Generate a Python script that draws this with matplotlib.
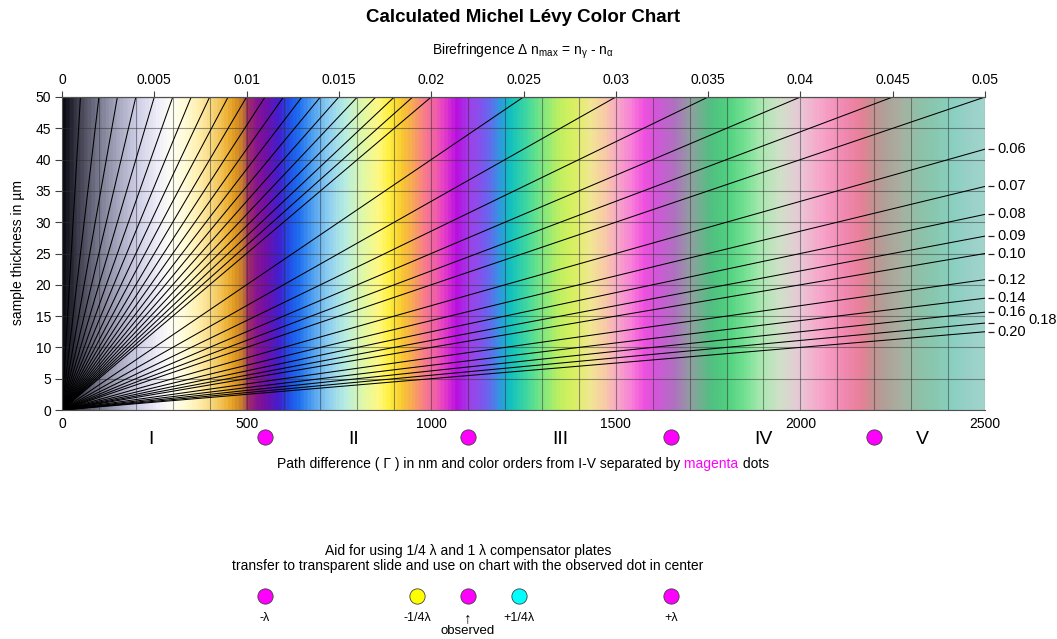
import numpy as np
import matplotlib.pyplot as plt
from matplotlib import transforms
from matplotlib.colors import LinearSegmentedColormap

plt.rcParams['font.family'] = ['Liberation Sans', 'DejaVu Sans']
plt.rcParams['mathtext.fontset'] = 'custom'
plt.rcParams['mathtext.rm'] = 'Liberation Sans'
plt.rcParams['mathtext.it'] = 'Liberation Sans:italic'

# interference colours (path difference in nm)
color_nm = [0, 40, 94, 148, 202, 256, 292, 328, 365, 401, 437, 464, 487, 500,
            523, 550, 586, 613, 640, 676, 721, 766, 812, 857, 884, 920, 956,
            983, 1010, 1032, 1069, 1105, 1150, 1186, 1213, 1259, 1303, 1349,
            1385, 1430, 1475, 1506, 1543, 1579, 1615, 1660, 1706, 1760, 1805,
            1850, 1895, 1949, 2003, 2026, 2071, 2125, 2170, 2197, 2233, 2278,
            2324, 2369, 2414, 2459, 2500]
color_hex = ['#0c0c14', '#404050', '#7a7a90', '#a8a8c0', '#d0d0e8', '#f0eef8',
             '#fffff5', '#fffbd8', '#fff0b0', '#f8d880', '#f0b840', '#e09a20',
             '#c07830', '#a03060', '#8a1490', '#7010a8', '#4020d0', '#2050e8',
             '#2070f0', '#50a0f0', '#90d0f0', '#b8eee0', '#e0f8a8', '#fff880',
             '#fff040', '#f8c830', '#f8a060', '#f87890', '#f060a8', '#e840c8',
             '#b810e0', '#a040e8', '#7060f0', '#3098e0', '#10c0c0', '#40d8a0',
             '#80e880', '#c0f060', '#d8f060', '#f0e890', '#f8c8a8', '#f8a8c8',
             '#f880d8', '#f050e0', '#d058d8', '#b070c0', '#90a0a0', '#50c080',
             '#50d080', '#70e090', '#a8e8b0', '#d0e0c8', '#e8c8d8', '#f0b8d0',
             '#f8a0c8', '#f088b0', '#e88098', '#c89090', '#b0a098', '#a8b0a0',
             '#90c0a8', '#88c8b0', '#88d0c0', '#98d0c8', '#a0d4cc']

# birefringence lines ending at the top edge / the right edge
dn_top = [0.001, 0.002, 0.003, 0.004, 0.005, 0.006, 0.007, 0.008, 0.009, 0.010,
          0.011, 0.012, 0.013, 0.014, 0.015, 0.016, 0.017, 0.018, 0.019, 0.020,
          0.025, 0.030, 0.035, 0.040, 0.045, 0.050]
dn_side = [0.06, 0.07, 0.08, 0.09, 0.10, 0.12, 0.14, 0.16, 0.18, 0.20]
side_labels = ['0.06', '0.07', '0.08', '0.09', '0.10', '0.12', '0.14', '0.16', '0.18', '0.20']

top_ticks = [0, 0.005, 0.01, 0.015, 0.02, 0.025, 0.03, 0.035, 0.04, 0.045, 0.05]
bottom_ticks = [0, 500, 1000, 1500, 2000, 2500]

order_names = ['I', 'II', 'III', 'IV', 'V']
order_pos = [240, 790, 1350, 1900, 2330]
order_dots = [550, 1100, 1650, 2200]

aid_pos = [550, 962.5, 1100, 1237.5, 1650]
aid_colors = ['#ff00ff', '#ffff00', '#ff00ff', '#00ffff', '#ff00ff']
aid_labels = ['-λ', '-1/4λ', '↑', '+1/4λ', '+λ']

W, H = 1057, 639
fig = plt.figure(figsize=(W / 100, H / 100), dpi=100)
ax = fig.add_axes([62 / W, 1 - 410 / H, 923 / W, 313 / H])


def fy(py):
    return 1 - py / H


cmap = LinearSegmentedColormap.from_list(
    'michel_levy', list(zip(np.array(color_nm) / 2500, color_hex)))
grad = np.linspace(0, 2500, 1200)[None, :]
ax.imshow(grad, extent=[0, 2500, 0, 50], aspect='auto', origin='lower',
          cmap=cmap, vmin=0, vmax=2500, interpolation='bilinear', zorder=0)

for dn in dn_top:
    ax.plot([0, 1000 * 50 * dn], [0, 50], color='k', lw=0.75, zorder=2)
for dn in dn_side:
    ax.plot([0, 2500], [0, 2500 / (1000 * dn)], color='k', lw=0.75, zorder=2)

ax.set_xlim(0, 2500)
ax.set_ylim(0, 50)
ax.set_xticks(bottom_ticks)
ax.set_xticks(np.arange(0, 2501, 100), minor=True)
ax.set_yticks(np.arange(0, 51, 5))
ax.grid(True, which='both', color='#303030', alpha=0.5, lw=0.8)
ax.tick_params(axis='x', which='both', length=0, pad=5, labelsize=10)
ax.tick_params(axis='y', length=5, width=0.8, pad=3, labelsize=10, color='#404040')
for s in ['top', 'left', 'bottom']:
    ax.spines[s].set_color('#505050')
ax.spines['right'].set_visible(False)

sec = ax.secondary_xaxis('top', functions=(lambda g: g / 50000, lambda n: n * 50000))
sec.set_xticks(top_ticks)
sec.set_xticklabels(['%g' % t for t in top_ticks])
sec.tick_params(length=4, width=0.8, pad=3, labelsize=10, color='#404040')
sec.spines['top'].set_color('#505050')

# labels for the steep lines at the right edge
tick_tr = transforms.offset_copy(ax.transData, fig=fig, x=6, units='dots')
for dn, lbl in zip(dn_side, side_labels):
    d = 2500 / (1000 * dn)
    ax.plot([2500], [d], marker='_', ms=5, mew=0.9, color='#202020',
            transform=tick_tr, clip_on=False)
    if lbl == '0.18':
        ax.annotate(lbl, xy=(2500, d), xytext=(31, 2), textcoords='offset points',
                    va='center', fontsize=10.5)
    else:
        ax.annotate(lbl, xy=(2500, d), xytext=(9, 0), textcoords='offset points',
                    va='center', fontsize=10.5)

bl = transforms.blended_transform_factory(ax.transData, fig.transFigure)

for name, pos in zip(order_names, order_pos):
    fig.text(pos, fy(439), name, transform=bl, ha='center', va='center', fontsize=14)
ax.plot(order_dots, [fy(437)] * len(order_dots), 'o', ms=11, mfc='#ff00ff',
        mec='#404040', mew=0.6, transform=bl, clip_on=False)

# x label with the coloured word
t1 = fig.text(0.25, fy(464), 'Path difference ( Γ ) in nm and color orders from I-V separated by',
              va='center', fontsize=10)
t2 = ax.annotate(' magenta', xy=(1, 0), xycoords=t1, va='bottom', color='#ff00ff', fontsize=10)
t3 = ax.annotate(' dots', xy=(1, 0), xycoords=t2, va='bottom', fontsize=10)
fig.canvas.draw()
r = fig.canvas.get_renderer()
wtot = sum(t.get_window_extent(r).width for t in (t1, t2, t3))
t1.set_x((523 - wtot / 2) / W)

fig.text(523 / W, fy(18), 'Calculated Michel Lévy Color Chart', ha='center',
         va='center', fontsize=13.5, fontweight='bold')
fig.text(523 / W, fy(51), r'Birefringence Δ n$_\mathregular{max}$ = n$_\mathregular{γ}$ - n$_\mathregular{α}$',
         ha='center', va='center', fontsize=10)
fig.text(18 / W, fy(253), 'sample thickness in µm', rotation=90, ha='center',
         va='center', fontsize=10)

# compensator plate aid
fig.text(1100, fy(551), 'Aid for using 1/4 λ and 1 λ compensator plates',
         transform=bl, ha='center', va='center', fontsize=10)
fig.text(1100, fy(566), 'transfer to transparent slide and use on chart with the observed dot in center',
         transform=bl, ha='center', va='center', fontsize=10)
for pos, c, lbl in zip(aid_pos, aid_colors, aid_labels):
    ax.plot([pos], [fy(596)], 'o', ms=11, mfc=c, mec='#404040', mew=0.6,
            transform=bl, clip_on=False)
    fig.text(pos, fy(618), lbl, transform=bl, ha='center', va='center',
             fontsize=11 if lbl == '↑' else 9)
fig.text(1100, fy(631), 'observed', transform=bl, ha='center', va='center', fontsize=9.5)

fig.savefig('out.png', dpi=100)
